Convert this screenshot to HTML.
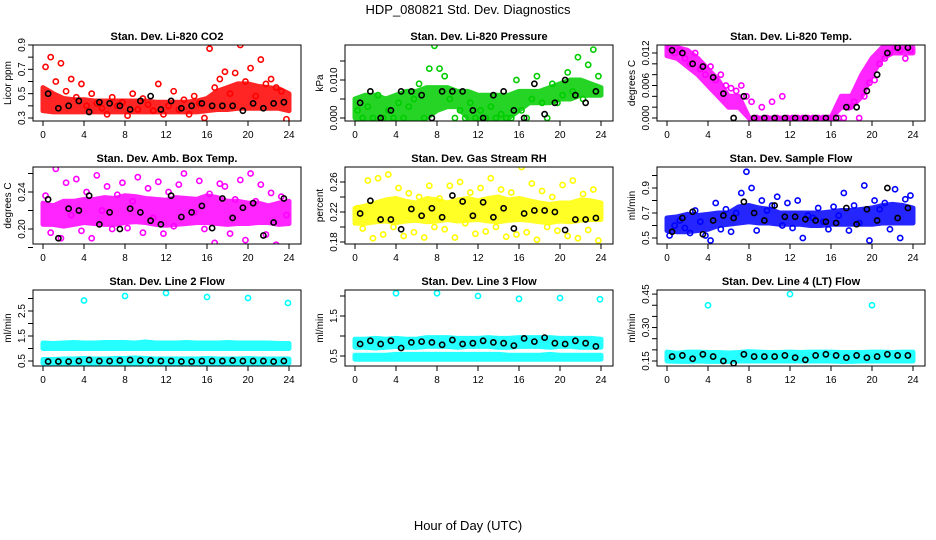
<!DOCTYPE html>
<html><head><meta charset="utf-8"><style>
body{margin:0;background:#fff}
svg{display:block;font-family:"Liberation Sans",sans-serif}
</style></head><body>
<svg id="c" width="936" height="540" viewBox="0 0 936 540">
<text x="468" y="14" text-anchor="middle" font-size="13">HDP_080821 Std. Dev. Diagnostics</text>
<text x="468" y="530" text-anchor="middle" font-size="13">Hour of Day (UTC)</text>
</svg>
<script>
const hours=[0,1,2,3,4,5,6,7,8,9,10,11,12,13,14,15,16,17,18,19,20,21,22,23,24];
// Panel 1 CO2
const bandLo1=[0.36,0.35,0.35,0.35,0.35,0.35,0.35,0.35,0.35,0.35,0.35,0.35,0.35,0.35,0.35,0.35,0.36,0.37,0.37,0.38,0.38,0.38,0.38,0.38,0.36];
const bandHi1=[0.55,0.50,0.46,0.45,0.45,0.44,0.44,0.44,0.44,0.44,0.44,0.43,0.43,0.43,0.43,0.44,0.46,0.52,0.55,0.58,0.58,0.56,0.55,0.54,0.50];
const pts1=[0.72,0.80,0.60,0.75,0.52,0.62,0.47,0.58,0.40,0.50,0.42,0.38,0.33,0.47,0.40,0.43,0.32,0.50,0.37,0.46,0.41,0.36,0.58,0.33,0.40,0.52,0.37,0.45,0.33,0.48,0.42,0.30,0.87,0.55,0.62,0.68,0.50,0.67,0.90,0.60,0.71,0.48,0.78,0.58,0.62,0.55,0.52,0.29];
const black1=[0.50,0.38,0.40,0.44,0.35,0.43,0.42,0.40,0.37,0.44,0.48,0.37,0.44,0.38,0.40,0.42,0.40,0.40,0.40,0.36,0.42,0.38,0.42,0.43];
// Panel 2 Pressure
const bandLo2=[0,0,0,0,0,0,0,0,0.002,0.003,0.003,0,0,0,0,0,0.002,0.004,0.004,0.004,0.005,0.005,0.006,0.006,0.006];
const bandHi2=[0.005,0.006,0.006,0.005,0.006,0.007,0.007,0.008,0.008,0.008,0.007,0.007,0.006,0.006,0.006,0.006,0.007,0.007,0.007,0.008,0.009,0.010,0.010,0.009,0.008];
const pts2=[0.002,0.000,0.003,0.000,0.006,0.000,0.002,0.000,0.004,0.000,0.003,0.005,0.009,0.000,0.013,0.019,0.013,0.011,0.005,0.000,0.002,0.000,0.004,0.000,0.002,0.000,0.003,0.000,0.001,0.000,0.000,0.010,0.002,0.000,0.005,0.011,0.004,0.000,0.009,0.004,0.006,0.012,0.007,0.016,0.005,0.014,0.018,0.011];
const black2=[0.004,0.007,0.000,0.002,0.007,0.007,0.006,0.000,0.007,0.007,0.007,0.002,0.000,0.006,0.007,0.002,0.000,0.009,0.001,0.004,0.010,0.006,0.004,0.007];
// Panel 3 Li-820 Temp
const bandLo3=[0.0115,0.011,0.0095,0.008,0.006,0.004,0.002,0.002,0,0,0,0,0,0,0,0,0,0.002,0.002,0.004,0.008,0.011,0.012,0.012,0.012];
const bandHi3=[0.0135,0.013,0.0125,0.011,0.009,0.007,0.004,0.004,0,0,0,0,0,0,0,0,0,0.004,0.004,0.008,0.011,0.013,0.013,0.013,0.013];
const pts3=[0.013,0.012,0.0125,0.011,0.010,0.012,0.009,0.008,0.0095,0.007,0.008,0.006,0.0055,0.005,0.006,0.004,0.003,0.000,0.002,0.000,0.003,0.000,0.004,0.000,0,0,0,0,0,0,0,0,0,0,0.000,0.002,0.003,0.000,0.004,0.0065,0.007,0.010,0.011,0.012,0.013,0.0125,0.011,0.0125];
const black3=[0.0125,0.012,0.010,0.0095,0.0075,0.0045,0.000,0.004,0.000,0,0,0,0,0,0,0,0,0.002,0.002,0.005,0.008,0.012,0.013,0.013];
// Panel 4 Amb Box Temp
const bandLo4=[0.205,0.205,0.203,0.205,0.207,0.206,0.205,0.205,0.207,0.208,0.207,0.205,0.204,0.205,0.206,0.207,0.207,0.206,0.205,0.206,0.206,0.207,0.207,0.205,0.206];
const bandHi4=[0.228,0.225,0.230,0.230,0.232,0.232,0.234,0.233,0.236,0.235,0.233,0.232,0.231,0.234,0.233,0.232,0.236,0.234,0.230,0.230,0.228,0.228,0.225,0.228,0.230];
const pts4=[0.236,0.196,0.265,0.190,0.250,0.215,0.254,0.198,0.240,0.190,0.258,0.220,0.246,0.200,0.237,0.250,0.201,0.230,0.256,0.196,0.244,0.212,0.251,0.195,0.240,0.203,0.248,0.260,0.271,0.218,0.252,0.200,0.238,0.185,0.249,0.246,0.195,0.232,0.253,0.188,0.260,0.230,0.248,0.194,0.239,0.183,0.235,0.215];
const black4=[0.232,0.190,0.222,0.220,0.236,0.205,0.218,0.200,0.222,0.218,0.209,0.205,0.236,0.213,0.218,0.225,0.201,0.233,0.212,0.223,0.228,0.193,0.207,0.233];
// Panel 5 Gas Stream RH
const bandLo5=[0.205,0.205,0.207,0.208,0.206,0.208,0.209,0.207,0.208,0.210,0.208,0.209,0.210,0.208,0.207,0.209,0.210,0.209,0.207,0.206,0.208,0.207,0.209,0.210,0.210];
const bandHi5=[0.225,0.228,0.232,0.236,0.238,0.234,0.232,0.238,0.236,0.232,0.236,0.238,0.235,0.238,0.240,0.236,0.238,0.235,0.232,0.230,0.232,0.232,0.236,0.235,0.232];
const pts5=[0.225,0.198,0.262,0.185,0.265,0.190,0.270,0.200,0.252,0.188,0.245,0.193,0.240,0.186,0.255,0.200,0.238,0.197,0.255,0.186,0.260,0.205,0.246,0.191,0.252,0.194,0.265,0.200,0.250,0.187,0.246,0.190,0.280,0.193,0.258,0.183,0.248,0.200,0.240,0.195,0.256,0.188,0.262,0.185,0.244,0.196,0.250,0.182];
const black5=[0.218,0.235,0.210,0.210,0.197,0.224,0.215,0.225,0.213,0.242,0.234,0.215,0.233,0.213,0.225,0.198,0.218,0.222,0.222,0.220,0.196,0.210,0.210,0.212];
// Panel 6 Sample Flow
const bandLo6=[0.56,0.55,0.55,0.56,0.57,0.60,0.61,0.62,0.63,0.62,0.62,0.61,0.61,0.61,0.60,0.60,0.61,0.61,0.61,0.61,0.61,0.62,0.62,0.62,0.62];
const bandHi6=[0.66,0.67,0.69,0.68,0.69,0.70,0.70,0.75,0.76,0.74,0.73,0.70,0.70,0.70,0.70,0.70,0.71,0.72,0.72,0.73,0.74,0.76,0.77,0.76,0.74];
const pts6=[0.52,0.60,0.64,0.58,0.54,0.72,0.63,0.52,0.48,0.78,0.57,0.73,0.55,0.70,0.86,1.03,0.90,0.56,0.80,0.72,0.76,0.83,0.60,0.78,0.58,0.80,0.50,0.68,0.66,0.74,0.63,0.57,0.75,0.68,0.86,0.56,0.76,0.62,0.92,0.48,0.80,0.73,0.78,0.57,0.89,0.50,0.81,0.84];
const black6=[0.55,0.66,0.71,0.53,0.64,0.68,0.66,0.79,0.70,0.64,0.76,0.67,0.67,0.65,0.64,0.63,0.62,0.74,0.61,0.73,0.64,0.90,0.66,0.74];
// Panel 7 Line 2 Flow
const bandLo7=[1.00,1.00,1.00,1.00,1.00,1.00,1.00,1.00,1.00,1.00,1.00,1.00,1.00,1.00,1.00,1.00,1.00,1.00,1.00,1.00,1.00,1.00,1.00,1.00,1.00];
const bandHi7=[1.22,1.20,1.22,1.24,1.22,1.22,1.24,1.24,1.24,1.22,1.26,1.22,1.22,1.22,1.24,1.22,1.22,1.22,1.24,1.22,1.22,1.22,1.22,1.20,1.20];
const lowLo7=[0.42,0.42,0.42,0.42,0.42,0.42,0.42,0.42,0.42,0.42,0.42,0.42,0.42,0.42,0.42,0.42,0.42,0.42,0.42,0.42,0.42,0.42,0.42,0.42,0.42];
const lowHi7=[0.56,0.56,0.58,0.58,0.60,0.58,0.58,0.60,0.60,0.62,0.60,0.58,0.58,0.58,0.58,0.58,0.60,0.58,0.58,0.58,0.60,0.58,0.58,0.58,0.58];
const outX7=[4,8,12,16,20,23.9];
const outY7=[2.92,3.10,3.22,3.06,3.02,2.82];
const black7=[0.48,0.48,0.48,0.50,0.54,0.50,0.50,0.52,0.54,0.52,0.52,0.50,0.50,0.48,0.48,0.50,0.50,0.50,0.52,0.50,0.50,0.50,0.48,0.50];
// Panel 8 Line 3 Flow
const bandLo8=[0.72,0.72,0.70,0.72,0.74,0.72,0.72,0.74,0.74,0.74,0.72,0.74,0.74,0.74,0.72,0.72,0.74,0.74,0.74,0.72,0.74,0.74,0.72,0.72,0.72];
const bandHi8=[0.92,0.92,0.94,0.92,0.94,0.92,0.92,0.96,0.96,0.96,0.94,0.94,0.94,0.96,0.94,0.94,0.96,0.96,0.96,0.96,0.94,0.94,0.94,0.94,0.92];
const lowLo8=[0.42,0.42,0.42,0.42,0.42,0.42,0.42,0.42,0.42,0.42,0.42,0.42,0.42,0.42,0.42,0.42,0.42,0.42,0.42,0.42,0.42,0.42,0.42,0.42,0.42];
const lowHi8=[0.52,0.52,0.52,0.52,0.54,0.54,0.54,0.54,0.54,0.54,0.54,0.54,0.54,0.54,0.54,0.52,0.52,0.52,0.52,0.54,0.52,0.52,0.52,0.52,0.52];
const outX8=[4,8,12,16,20,23.9];
const outY8=[2.07,2.07,2.00,1.93,1.95,1.92];
const black8=[0.80,0.88,0.80,0.88,0.70,0.84,0.86,0.84,0.78,0.90,0.80,0.82,0.88,0.84,0.82,0.76,0.94,0.86,0.96,0.82,0.80,0.88,0.82,0.74];
// Panel 9 Line 4 (LT) Flow
const bandLo9=[0.150,0.148,0.148,0.150,0.148,0.148,0.148,0.150,0.150,0.150,0.150,0.150,0.150,0.150,0.150,0.150,0.150,0.148,0.148,0.150,0.150,0.150,0.150,0.150,0.150];
const bandHi9=[0.190,0.185,0.190,0.190,0.188,0.188,0.186,0.188,0.192,0.190,0.188,0.188,0.190,0.188,0.190,0.190,0.190,0.188,0.188,0.188,0.190,0.190,0.188,0.190,0.190];
const outX9=[4,12,20];
const outY9=[0.40,0.45,0.40];
const black9=[0.170,0.175,0.160,0.180,0.170,0.150,0.140,0.180,0.170,0.170,0.170,0.175,0.165,0.155,0.175,0.180,0.175,0.165,0.175,0.165,0.170,0.180,0.175,0.175];

const C=document.getElementById('c');
const NS='http://www.w3.org/2000/svg';
function mk(tag,attrs,parent){const e=document.createElementNS(NS,tag);for(const k in attrs)e.setAttribute(k,attrs[k]);(parent||C).appendChild(e);return e;}

const panels=[
 {t:'Stan. Dev. Li-820 CO2',yl:'Licor ppm',col:'#FF0000',v0:0.3,y0:118,k:-121.7,ticks:[0.3,0.4,0.5,0.6,0.7,0.8,0.9],labs:[0.3,0.5,0.7,0.9],dec:1,bands:[[bandLo1,bandHi1]],pts:pts1,black:black1},
 {t:'Stan. Dev. Li-820 Pressure',yl:'kPa',col:'#00CD00',v0:0,y0:118,k:-3800,ticks:[0,0.005,0.010,0.015],labs:[0,0.010],dec:3,bands:[[bandLo2,bandHi2]],pts:pts2,black:black2},
 {t:'Stan. Dev. Li-820 Temp.',yl:'degrees C',col:'#FF00FF',v0:0,y0:118,k:-5417,ticks:[0,0.002,0.004,0.006,0.008,0.010,0.012],labs:[0,0.006,0.012],dec:3,bands:[[bandLo3,bandHi3]],pts:pts3,black:black3},
 {t:'Stan. Dev. Amb. Box Temp.',yl:'degrees C',col:'#FF00FF',v0:0.20,y0:229,k:-925,ticks:[0.18,0.20,0.22,0.24,0.26],labs:[0.20,0.24],dec:2,bands:[[bandLo4,bandHi4]],pts:pts4,black:black4},
 {t:'Stan. Dev. Gas Stream RH',yl:'percent',col:'#FFFF00',v0:0.18,y0:242,k:-750,ticks:[0.18,0.20,0.22,0.24,0.26],labs:[0.18,0.22,0.26],dec:2,bands:[[bandLo5,bandHi5]],pts:pts5,black:black5},
 {t:'Stan. Dev. Sample Flow',yl:'ml/min',col:'#0000FF',v0:0.5,y0:238,k:-125,ticks:[0.5,0.6,0.7,0.8,0.9,1.0],labs:[0.5,0.7,0.9],dec:1,bands:[[bandLo6,bandHi6]],pts:pts6,black:black6},
 {t:'Stan. Dev. Line 2 Flow',yl:'ml/min',col:'#00FFFF',v0:0.5,y0:361,k:-25,ticks:[0.5,1.0,1.5,2.0,2.5,3.0],labs:[0.5,1.5,2.5],dec:1,bands:[[bandLo7,bandHi7],[lowLo7,lowHi7]],outX:outX7,outY:outY7,black:black7},
 {t:'Stan. Dev. Line 3 Flow',yl:'ml/min',col:'#00FFFF',v0:0.5,y0:356,k:-40,ticks:[0.5,1.0,1.5,2.0],labs:[0.5,1.5],dec:1,bands:[[bandLo8,bandHi8],[lowLo8,lowHi8]],outX:outX8,outY:outY8,black:black8},
 {t:'Stan. Dev. Line 4 (LT) Flow',yl:'ml/min',col:'#00FFFF',v0:0.15,y0:361,k:-223,ticks:[0.15,0.20,0.25,0.30,0.35,0.40,0.45],labs:[0.15,0.30,0.45],dec:2,bands:[[bandLo9,bandHi9]],outX:outX9,outY:outY9,black:black9}
];
const rowTop=[45,167,290], rowBot=[121,244,366];

panels.forEach((p,i)=>{
  const c=i%3,r=Math.floor(i/3),ox=c*312;
  const L=33+ox,R=301+ox,T=rowTop[r],B=rowBot[r];
  const xs=h=>43+ox+h*(246/24);
  const ys=v=>p.y0+(v-p.v0)*p.k;
  const g=mk('g',{});
  
  
  const clip=mk('clipPath',{id:'cp'+i},g);
  mk('rect',{x:L,y:T,width:R-L,height:B-T},clip);
  const data=mk('g',{'clip-path':'url(#cp'+i+')'},g);
  const bg=mk('g',{opacity:0.85},data);
  p.bands.forEach(([lo,hi],bi)=>{
    let d='M';
    hours.forEach((h,j)=>{d+=(j?'L':'')+xs(h).toFixed(1)+','+ys(hi[j]).toFixed(1);});
    for(let j=hours.length-1;j>=0;j--)d+='L'+xs(hours[j]).toFixed(1)+','+ys(lo[j]).toFixed(1);
    const b=mk('path',{d:d+'Z',fill:p.col,stroke:p.col,'stroke-width':5,'stroke-linejoin':'round'},bg);
    
    
  });
  if(p.pts){p.pts.forEach((v,j)=>{
    const e=mk('circle',{cx:xs(j*0.5+0.25),cy:ys(v),r:2.6,fill:'none',stroke:p.col,'stroke-width':1.6},data);
    
    
  });}
  if(p.outX){p.outX.forEach((h,j)=>{
    const e=mk('circle',{cx:xs(h),cy:ys(p.outY[j]),r:2.6,fill:'none',stroke:p.col,'stroke-width':1.6},data);
    
    
  });}
  p.black.forEach((v,j)=>{
    const e=mk('circle',{cx:xs(j+0.5),cy:ys(v),r:2.6,fill:'none',stroke:'#000','stroke-width':1.6},data);
    
    
  });
  const box=mk('rect',{x:L,y:T,width:R-L,height:B-T,fill:'none',stroke:'#000','stroke-width':1},g);
  
  
  const tt=mk('text',{x:(L+R)/2,y:T-5,'text-anchor':'middle','font-size':11,'font-weight':'bold'},g);
  tt.textContent=p.t;
  
  
  const yl=mk('text',{x:0,y:0,'text-anchor':'middle','font-size':10,transform:'translate('+(11+ox)+','+((T+B)/2)+') rotate(-90)'},g);
  yl.textContent=p.yl;
  
  
  mk('line',{x1:xs(0),x2:xs(24),y1:B,y2:B,stroke:'#000'},g);
  [0,4,8,12,16,20,24].forEach(h=>{
    mk('line',{x1:xs(h),x2:xs(h),y1:B,y2:B+5,stroke:'#000'},g);
    const t=mk('text',{x:xs(h),y:B+17,'text-anchor':'middle','font-size':10},g);
    t.textContent=h;
    
    
  });
  p.ticks.forEach(v=>{mk('line',{x1:L-5,x2:L,y1:ys(v),y2:ys(v),stroke:'#000'},g);});
  p.labs.forEach(v=>{
    const t=mk('text',{x:0,y:0,'text-anchor':'middle','font-size':10,transform:'translate('+(L-8)+','+ys(v)+') rotate(-90)'},g);
    t.textContent=v.toFixed(p.dec);
    
    
  });
});
</script>
</body></html>
